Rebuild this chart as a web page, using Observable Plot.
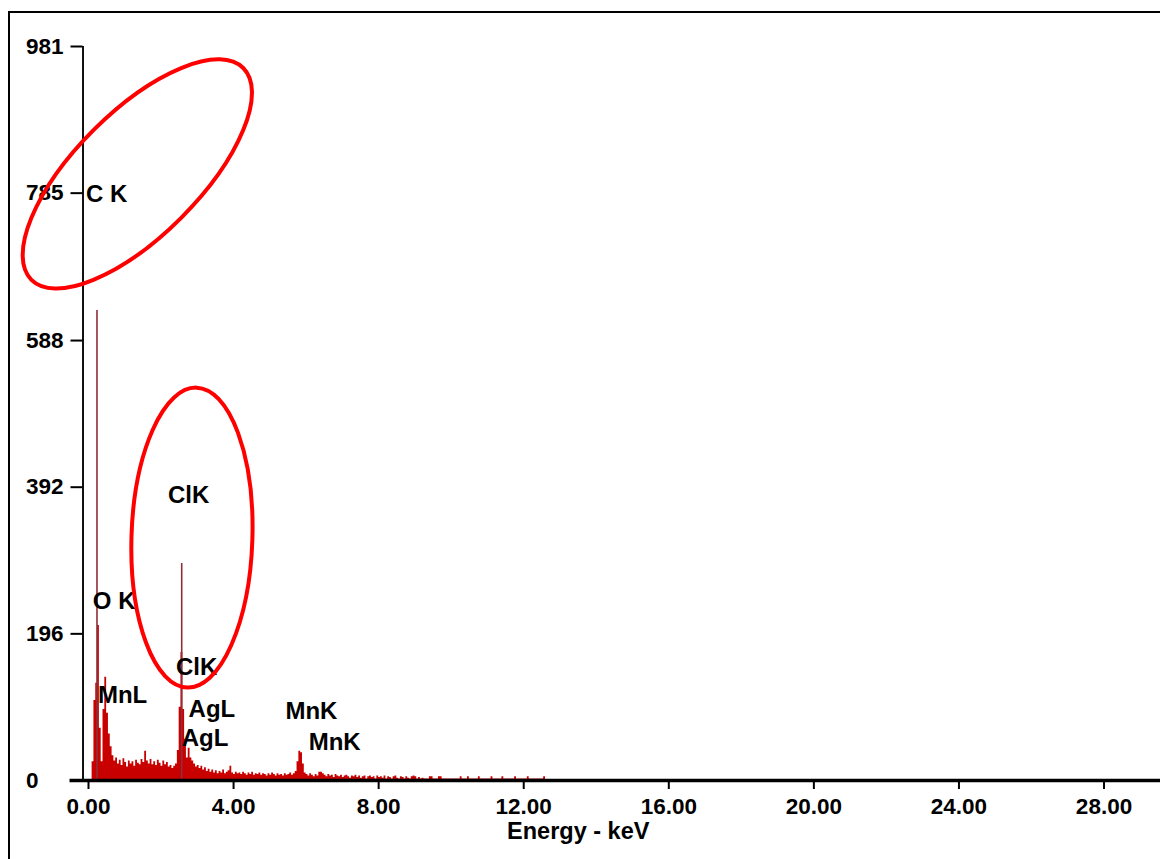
<!DOCTYPE html>
<html><head><meta charset="utf-8">
<script src="https://cdn.jsdelivr.net/npm/d3@7"></script>
<script src="https://cdn.jsdelivr.net/npm/@observablehq/plot@0.6"></script>
<style>
html,body{margin:0;padding:0;background:#fff;}
#wrap{position:relative;width:1160px;height:859px;overflow:hidden;}
#frame{position:absolute;left:8px;top:11px;width:1200px;height:900px;border-left:2.5px solid #000;border-top:2.5px solid #000;pointer-events:none;}
</style></head><body><div id="wrap"><div id="chart"></div><div id="frame"></div></div>
<script>
// Spectrum: counts per 0.05 keV channel starting at 0.10 keV
const binStart = 0.10, binWidth = 0.05;
const counts = [
  25,107,130,207,70,25,95,138,90,62,45,33,26,30,22,27,20,29,24,18,   // 0.10-1.05
  26,22,25,19,27,23,21,28,24,39,26,22,28,21,25,20,27,23,19,26,       // 1.10-2.05
  21,24,18,20,16,19,22,40,98,171,95,55,30,43,30,26,22,18,20,16,      // 2.10-3.05
  19,14,17,12,15,11,14,10,13,9,12,10,14,9,11,13,19,10,8,11,          // 3.10-4.05
  9,10,8,11,9,7,10,8,11,7,9,8,10,7,9,8,6,9,7,10,                     // 4.10-5.05
  8,6,9,7,8,6,9,7,8,10,7,9,12,25,39,37,22,10,8,6,                    // 5.10-6.05
  9,7,5,8,6,11,11,9,7,5,8,6,7,4,8,6,5,7,4,6,                         // 6.10-7.05
  7,5,3,6,5,7,4,6,3,5,6,2,5,6,4,5,2,6,4,5,                           // 7.10-8.05
  3,6,2,5,4,2,5,6,3,2,5,4,2,5,3,2,5,6,5,2,                           // 8.10-9.05
  4,2,3,2,2,2,5,5,2,2,2,5,5,2,2,2,2,2,2,2,                           // 9.10-10.05
  2,2,2,5,2,2,2,5,2,2,2,2,2,5,2,2,2,2,2,2,                           // 10.10-11.05
  5,2,2,2,2,2,5,2,2,2,2,2,2,5,2,2,2,2,2,2,                           // 11.10-12.05
  5,2,2,2,2,2,2,2,2,5                                                // 12.10-12.55
];
const peakLines = [
  {energy: 0.234, counts: 628},
  {energy: 2.57, counts: 290}
];
const xTicks = [0, 4, 8, 12, 16, 20, 24, 28];
const yTicks = [0, 196, 392, 588, 785, 981];
const xLabel = "Energy - keV";
const labelText = ["C K", "O K", "MnL", "ClK", "ClK", "AgL", "AgL", "MnK", "MnK"];
const labelEnergy = [-0.07, 0.12, 0.26, 2.19, 2.41, 2.76, 2.57, 5.43, 6.07];
const labelCounts = [783, 239, 114, 381, 151, 95, 57, 92, 51];
// annotation ellipses: centre (keV, counts), semi-axes (keV, counts), rotation (deg)
const ellipses = [
  {energy: 1.36, counts: 810, rx: 4.13, ry: 82.9, angle: -45},
  {energy: 2.866, counts: 324, rx: 1.667, ry: 200.5, angle: 1.8}
];

const spectrum = counts.map((c, i) => ({energy: binStart + i * binWidth, counts: c}));
spectrum.push({energy: binStart + counts.length * binWidth, counts: 0});
const labels = labelText.map((t, i) => ({text: t, energy: labelEnergy[i], counts: labelCounts[i]}));

function ellipseMark(index, scales) {
  const g = d3.create("svg:g");
  for (const e of ellipses) {
    const cx = scales.x(e.energy), cy = scales.y(e.counts);
    const rx = Math.abs(scales.x(e.energy + e.rx) - cx);
    const ry = Math.abs(scales.y(e.counts + e.ry) - cy);
    g.append("ellipse")
      .attr("cx", cx).attr("cy", cy).attr("rx", rx).attr("ry", ry)
      .attr("transform", `rotate(${e.angle} ${cx} ${cy})`)
      .attr("fill", "none").attr("stroke", "#ff0000").attr("stroke-width", 4);
  }
  return g.node();
}

const xDomain = [-0.51, 29.557];
const chart = Plot.plot({
  width: 1160, height: 859,
  marginLeft: 69.5, marginRight: 0, marginTop: 46, marginBottom: 79,
  x: {domain: xDomain},
  y: {domain: [0, 981]},
  style: {fontFamily: "'Liberation Sans', Arial, sans-serif", fontSize: "22px", fontWeight: "bold", background: "white", color: "#000", overflow: "visible"},
  marks: [
    Plot.areaY(spectrum, {x: "energy", y1: 0, y2: "counts", curve: "step-after", fill: "#c80000"}),
    Plot.ruleX(peakLines, {x: "energy", y1: 0, y2: "counts", stroke: "#8e2f3c", strokeWidth: 1.6}),
    Plot.ruleY([0], {stroke: "#000", strokeWidth: 3.5}),
    Plot.ruleX([xDomain[0]], {dx: 13, y1: 0, y2: 981, stroke: "#111", strokeWidth: 2}),
    Plot.axisY(yTicks, {tickSize: 12, dx: 13, tickFormat: () => "", strokeWidth: 2, label: null}),
    Plot.text(yTicks, {y: d => d, text: d => String(d), frameAnchor: "left", dx: -44, textAnchor: "start", fontSize: 22.5}),
    Plot.axisX(xTicks, {tickSize: 9, tickPadding: 9, tickFormat: d3.format(".2f"), strokeWidth: 2, label: null, fontSize: 22.5}),
    Plot.text([xLabel], {frameAnchor: "bottom", dx: -37, dy: 58, fontSize: 23.5}),
    Plot.text(labels, {x: "energy", y: "counts", text: "text", textAnchor: "start", fontSize: 24}),
    ellipseMark
  ]
});
document.getElementById("chart").appendChild(chart);
</script></body></html>
